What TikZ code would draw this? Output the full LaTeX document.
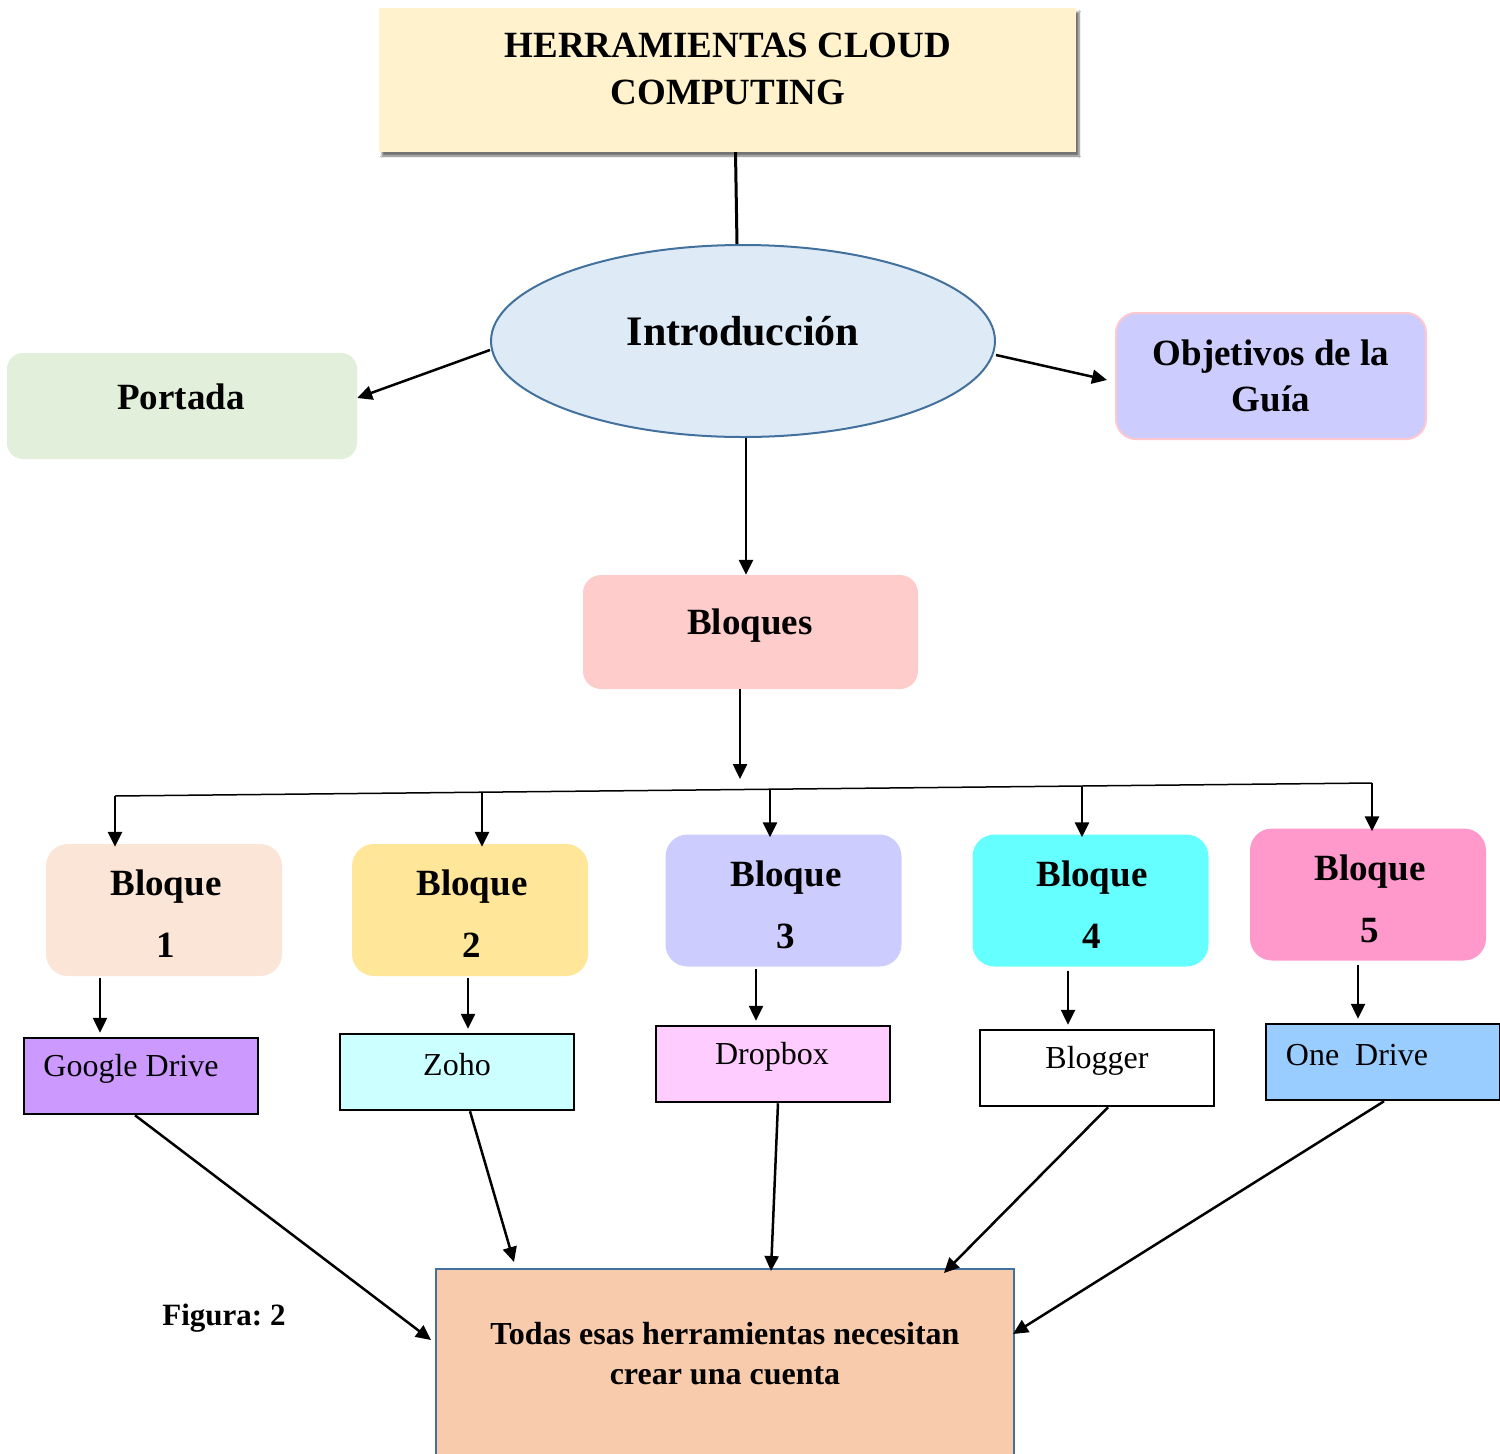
\documentclass[tikz,border=0pt]{standalone}
\usepackage{fontspec}
\setmainfont{Liberation Serif}
\usetikzlibrary{arrows.meta,shapes.geometric,shadows.blur}
\newcommand{\myfs}[2]{\fontsize{#1}{#2}\selectfont}
\definecolor{ctitle}{HTML}{FFF2CC}
\definecolor{cell}{HTML}{DEEBF7}
\definecolor{cblue}{HTML}{41719C}
\definecolor{cport}{HTML}{E2EFDA}
\definecolor{cobj}{HTML}{CCCCFF}
\definecolor{cobjb}{HTML}{FFC7CE}
\definecolor{cbloq}{HTML}{FFCCCC}
\definecolor{cbone}{HTML}{FBE5D6}
\definecolor{cbtwo}{HTML}{FFE699}
\definecolor{cbthree}{HTML}{CCCCFF}
\definecolor{cbfour}{HTML}{66FFFF}
\definecolor{cbfive}{HTML}{FF99CC}
\definecolor{cgd}{HTML}{CC99FF}
\definecolor{czoho}{HTML}{CCFFFF}
\definecolor{cdrop}{HTML}{FFCCFF}
\definecolor{conedr}{HTML}{99CCFF}
\definecolor{cbottom}{HTML}{F8CBAD}
\begin{document}
\begin{tikzpicture}[x=1pt,y=-1pt,
  box/.style={inner sep=0pt, draw=none, rectangle},
  rbox/.style={box, rounded corners=18pt},
  bbox/.style={rbox, minimum width=236pt, minimum height=132pt, rounded corners=22pt},
  tool/.style={box, draw=black, line width=2.5pt, minimum width=234pt, minimum height=76pt},
  lab/.style={inner sep=0pt, align=center, font=\bfseries\myfs{37}{47}},
  blab/.style={inner sep=0pt, align=center, font=\bfseries\myfs{37}{62}},
  tlab/.style={inner sep=0pt, align=center, font=\myfs{32}{38}},
  arr/.style={-{Triangle[length=15pt,width=14pt]}, line width=2.5pt},
  ]
\useasboundingbox (0,0) rectangle (1500,1454);
\clip (0,0) rectangle (1500,1454);
\fill[white] (0,0) rectangle (1500,1454);

% boxes
\node[box, fill=ctitle, minimum width=697pt, minimum height=144pt,
  blur shadow={shadow xshift=3pt, shadow yshift=-4pt, shadow blur steps=6, shadow opacity=55}] (title) at (727.5,80) {};
\node[ellipse, inner sep=0pt, fill=cell, draw=cblue, line width=2pt, minimum width=504pt, minimum height=192pt] (ell) at (743,341) {};
\node[rbox, fill=cport, minimum width=350pt, minimum height=106pt, rounded corners=16pt] (port) at (182,406) {};
\node[rbox, fill=cobj, draw=cobjb, line width=2pt, minimum width=310pt, minimum height=126pt, rounded corners=20pt] (obj) at (1271,376) {};
\node[rbox, fill=cbloq, minimum width=335pt, minimum height=114pt] (bloq) at (750.5,632) {};

\node[bbox, fill=cbone] (b1) at (164,910) {};
\node[bbox, fill=cbtwo] (b2) at (470,910) {};
\node[bbox, fill=cbthree] (b3) at (783.5,900.5) {};
\node[bbox, fill=cbfour] (b4) at (1090.5,900.5) {};
\node[bbox, fill=cbfive] (b5) at (1368,894.5) {};

\node[tool, fill=cgd] (gd) at (141,1076) {};
\node[tool, fill=czoho] (zoho) at (457,1072) {};
\node[tool, fill=cdrop] (drop) at (773,1064) {};
\node[tool, fill=white] (blog) at (1097,1068) {};
\node[tool, fill=conedr] (oned) at (1383,1062) {};

\node[box, fill=cbottom, draw=cblue, line width=2pt, minimum width=578pt, minimum height=200pt] (bot) at (725,1369) {};

% texts
\node[lab] (ttitle) at (728,68.5) {HERRAMIENTAS CLOUD\\COMPUTING};
\node[lab, font=\bfseries\myfs{42}{50}] (tell) at (743,331) {Introducción};
\node[lab] (tport) at (181,397) {Portada};
\node[lab, font=\bfseries\myfs{37}{46}] (tobj) at (1271,376) {Objetivos de la\\Guía};
\node[lab] (tbloq) at (750,626) {Bloques};
\node[blab] (tb1) at (166,914) {Bloque\\1};
\node[blab] (tb2) at (472,914) {Bloque\\2};
\node[blab] (tb3) at (786,904.5) {Bloque\\3};
\node[blab] (tb4) at (1092,904.5) {Bloque\\4};
\node[blab] (tb5) at (1370,898.5) {Bloque\\5};
\node[tlab] (tgd) at (131,1069) {Google Drive};
\node[tlab] (tzoho) at (457,1065) {Zoho};
\node[tlab] (tdrop) at (772,1057) {Dropbox};
\node[tlab] (tblog) at (1097,1061) {Blogger};
\node[tlab] (toned) at (1357,1055) {One\ \ Drive};
\node[lab, font=\bfseries\myfs{32}{40}] (tbot) at (725,1354) {Todas esas herramientas necesitan\\crear una cuenta};
\node[lab, font=\bfseries\myfs{31}{38}] (tfig) at (224,1318) {Figura:\ 2};

% connectors
\draw[line width=3pt] ([xshift=8pt]title.south) -- ([xshift=-6pt]ell.north);
\draw[arr] ([yshift=-9pt]ell.west) -- ([yshift=8pt]port.east);
\draw[arr] ([yshift=-14pt]ell.east) -- ([xshift=-8pt,yshift=-4pt]obj.west);
\draw[arr] ([xshift=3pt]ell.south) -- ([xshift=-4.5pt]bloq.north);

\coordinate (hub) at (740,779);
\coordinate (hl) at (115,796);
\coordinate (hr) at (1372,783);
\coordinate (j2) at (482,792.2);
\coordinate (j3) at (770,789.2);
\coordinate (j4) at (1082,786);
\draw[arr] ([xshift=-10.5pt]bloq.south) -- (hub);
\draw[line width=1.5pt] (hl) -- (hr);
\draw[arr] (hl) -- ([yshift=-3pt]hl |- b1.north);
\draw[arr] (j2) -- ([yshift=-3pt]j2 |- b2.north);
\draw[arr] (j3) -- ([yshift=-3pt]j3 |- b3.north);
\draw[arr] (j4) -- ([yshift=-3pt]j4 |- b4.north);
\draw[arr] (hr) -- ([yshift=-3pt]hr |- b5.north);

\draw[arr] ([xshift=-64pt,yshift=-2pt]b1.south) -- ([xshift=-41pt,yshift=4pt]gd.north);
\draw[arr] ([xshift=-2pt,yshift=-2pt]b2.south) -- ([xshift=11pt,yshift=4pt]zoho.north);
\draw[arr] ([xshift=-27.5pt,yshift=-2pt]b3.south) -- ([xshift=-17pt,yshift=4pt]drop.north);
\draw[arr] ([xshift=-22.5pt,yshift=-4pt]b4.south) -- ([xshift=-29pt,yshift=4pt]blog.north);
\draw[arr] ([xshift=-10pt,yshift=-4pt]b5.south) -- ([xshift=-25pt,yshift=4pt]oned.north);

\draw[arr] ([xshift=-6pt]gd.south) -- ([xshift=-4pt,yshift=29pt]bot.west);
\draw[arr] ([xshift=13pt]zoho.south) -- ([xshift=-211pt,yshift=6pt]bot.north);
\draw[arr] ([xshift=5pt]drop.south) -- ([xshift=46pt,yshift=-3pt]bot.north);
\draw[arr] ([xshift=11pt]blog.south) -- ([xshift=219pt,yshift=-5pt]bot.north);
\draw[arr] ([xshift=1pt]oned.south) -- ([xshift=-2pt,yshift=35pt]bot.east);
\end{tikzpicture}
\end{document}
